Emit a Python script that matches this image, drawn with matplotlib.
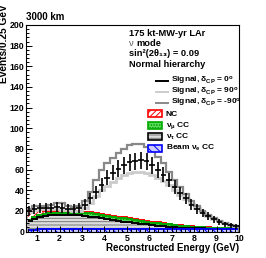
import matplotlib
matplotlib.use('Agg')
import matplotlib.pyplot as plt
from matplotlib.patches import Rectangle
from matplotlib.lines import Line2D
import numpy as np

plt.rcParams['font.family'] = ['Liberation Sans', 'DejaVu Sans']
plt.rcParams['font.weight'] = 'bold'
plt.rcParams['mathtext.fontset'] = 'custom'
plt.rcParams['mathtext.rm'] = 'Liberation Sans:bold'
plt.rcParams['mathtext.it'] = 'Liberation Sans:bold'
plt.rcParams['mathtext.bf'] = 'Liberation Sans:bold'
plt.rcParams['hatch.linewidth'] = 0.7

# bin edges: 0.25 GeV bins from 0.5 to 10 GeV
edges = np.arange(0.5, 10.0001, 0.25)

# total spectra (signal + background) for three delta_CP values
sig_0 = [20, 22, 23, 23, 23, 24, 23, 22, 22, 23, 26, 32, 38, 45, 52, 57, 61, 64, 67, 68,
         69, 68, 64, 60, 55, 50, 43, 37, 32, 26, 22, 18, 15, 12, 9, 7, 6, 5]
sig_p90 = [19, 21, 22, 22, 22, 22, 21, 21, 20, 20, 23, 28, 34, 40, 44, 48, 52, 55, 57, 58,
           58, 57, 55, 52, 49, 45, 40, 35, 31, 27, 23, 19, 15, 12, 10, 8, 6, 5]
sig_m90 = [22, 25, 25, 25, 26, 28, 28, 25, 24, 25, 30, 38, 50, 60, 66, 71, 76, 80, 84, 85,
           85, 82, 78, 72, 66, 58, 50, 43, 36, 30, 25, 20, 16, 13, 10, 8, 6, 5]

# stacked backgrounds, bottom to top
bkg_nue = [1.5, 1.8, 2.0, 2.0, 2.0, 2.0, 2.0, 2.0, 2.0, 2.0, 2.2, 2.2, 2.3, 2.3, 2.4, 2.4, 2.5, 2.5, 2.5,
           2.5, 2.6, 2.6, 2.6, 2.6, 2.6, 2.6, 2.6, 2.6, 2.6, 2.6, 2.6, 2.6, 2.5, 2.5, 2.5, 2.5, 2.4, 2.4]
bkg_nutau = [8.5, 10.2, 12, 13, 13.5, 14, 14, 14, 14, 13.5, 12.8, 12.3, 11.7, 10.7, 9.6, 8.6, 7.5, 7.0, 6.5,
             5.5, 4.9, 4.4, 3.4, 2.9, 2.4, 1.9, 1.4, 1.2, 1.0, 0.8, 0.6, 0.4, 0.4, 0.3, 0.2, 0.1, 0.1, 0.0]
bkg_numu = [1, 2, 2, 2, 2, 2, 2, 2, 2, 2.5, 3, 3, 3, 3, 3, 3, 3.5, 3.5, 3,
            3, 2.5, 2.5, 2.5, 2.5, 2.5, 2.5, 2, 1.7, 1.4, 1.2, 1.1, 1.0, 0.9, 0.8, 0.7, 0.6, 0.5, 0.5]
bkg_nc = [9, 7, 4.5, 3, 2.5, 2, 2, 2, 2, 1.5, 1, 1, 1, 1, 1, 1, 1, 1, 1,
          1, 1, 1, 1, 1, 1, 0.5, 0.5, 0.5, 0.5, 0.4, 0.3, 0.3, 0.2, 0.2, 0.2, 0.2, 0.2, 0.1]

W, H = 266, 258
fig = plt.figure(figsize=(W / 100, H / 100), dpi=100)
ax = fig.add_axes([26 / W, 26.5 / H, 213 / W, 206.5 / H])

c1 = np.array(bkg_nue)
c2 = c1 + np.array(bkg_nutau)
c3 = c2 + np.array(bkg_numu)
c4 = c3 + np.array(bkg_nc)

ax.stairs(c4, edges, baseline=c3, fill=True, facecolor='white', edgecolor='red', hatch='//////', lw=0)
ax.stairs(c3, edges, baseline=c2, fill=True, facecolor='#55dd55', edgecolor='#008800', hatch='......', lw=0)
ax.stairs(c2, edges, baseline=c1, fill=True, facecolor='#dddddd', edgecolor='#777777', hatch='-----', lw=0)
ax.stairs(c1, edges, baseline=0, fill=True, facecolor='#ccccff', edgecolor='blue', hatch='\\\\\\\\', lw=0)
ax.stairs(c4, edges, color='red', lw=1.4)
ax.stairs(c3, edges, color='#00aa00', lw=1.4)
ax.stairs(c2, edges, color='black', lw=1.4)
ax.stairs(c1, edges, color='blue', lw=1.4)

ax.stairs(sig_p90, edges, color='#cccccc', lw=2.0)
ax.stairs(sig_m90, edges, color='#888888', lw=1.6)
centers = 0.5 * (edges[:-1] + edges[1:])
ax.errorbar(centers, sig_0, xerr=0.125, yerr=np.sqrt(sig_0), fmt='none', ecolor='black', elinewidth=1.2)

ax.set_xlim(0.5, 10)
ax.set_ylim(0, 200)
ax.set_xticks(range(1, 11))
ax.set_yticks(range(0, 201, 20))
ax.set_xticks(np.arange(0.6, 10.01, 0.2), minor=True)
ax.set_yticks(range(0, 201, 4), minor=True)
ax.tick_params(which='both', direction='in', top=False, right=False, labelsize=6.3, pad=1.2)
ax.tick_params(axis='x', pad=2)
ax.tick_params(which='major', length=4.3, width=0.7)
ax.tick_params(which='minor', length=2.2, width=0.7)
for s in ax.spines.values():
    s.set_linewidth(0.8)


def fx(x):
    return x / W


def fy(y):
    return 1 - y / H


fig.text(fx(26), fy(17), '3000 km', fontsize=7, ha='left', va='center')
fig.text(fx(4.5), fy(4), 'Events/0.25 GeV', fontsize=7.3, rotation=90, ha='center', va='top')
fig.text(fx(239), fy(248), 'Reconstructed Energy (GeV)', fontsize=7, ha='right', va='center')

fig.text(fx(129), fy(33), '175 kt-MW-yr LAr', fontsize=6.7, va='center')
fig.text(fx(129), fy(43.5), '\u03bd', fontsize=6.7, va='center', color='#555555', fontweight='normal')
fig.text(fx(136), fy(43.5), 'mode', fontsize=6.7, va='center')
fig.text(fx(129), fy(54), 'sin\u00b2(2\u03b8\u2081\u2083) = 0.09', fontsize=6.7, va='center')
fig.text(fx(129), fy(64.5), 'Normal hierarchy', fontsize=6.7, va='center')

# legend
rows = [81, 92, 103, 114, 125.5, 136.5, 148]
lines = [('black', 1.4, r'Signal, $\delta_{CP}$ = 0$^{o}$'),
         ('#cccccc', 1.4, r'Signal, $\delta_{CP}$ = 90$^{o}$'),
         ('#888888', 1.4, r'Signal, $\delta_{CP}$ = -90$^{o}$')]
for (col, lw, lab), y in zip(lines, rows[:3]):
    fig.add_artist(Line2D([fx(156), fx(168)], [fy(y), fy(y)], color=col, lw=lw, transform=fig.transFigure))
    fig.text(fx(171), fy(y), lab, fontsize=6, va='center')
boxes = [('white', 'red', 'red', '//////', 'NC'),
         ('#55dd55', '#008800', '#00aa00', '......', r'$\nu_{\mu}$ CC'),
         ('#dddddd', '#777777', 'black', '-----', r'$\nu_{\tau}$ CC'),
         ('#ccccff', 'blue', 'blue', '\\\\\\\\', r'Beam $\nu_{e}$ CC')]
for (fc, hc, ec, hatch, lab), y in zip(boxes, rows[3:]):
    fig.add_artist(Rectangle((fx(148), fy(y + 3.5)), 14 / W, 7 / H, facecolor=fc, edgecolor=hc,
                             hatch=hatch, lw=0, transform=fig.transFigure))
    fig.add_artist(Rectangle((fx(148), fy(y + 3.5)), 14 / W, 7 / H, facecolor='none', edgecolor=ec,
                             lw=1.2, transform=fig.transFigure))
    fig.text(fx(166), fy(y), lab, fontsize=6, va='center')

fig.savefig('out.png', dpi=100)
